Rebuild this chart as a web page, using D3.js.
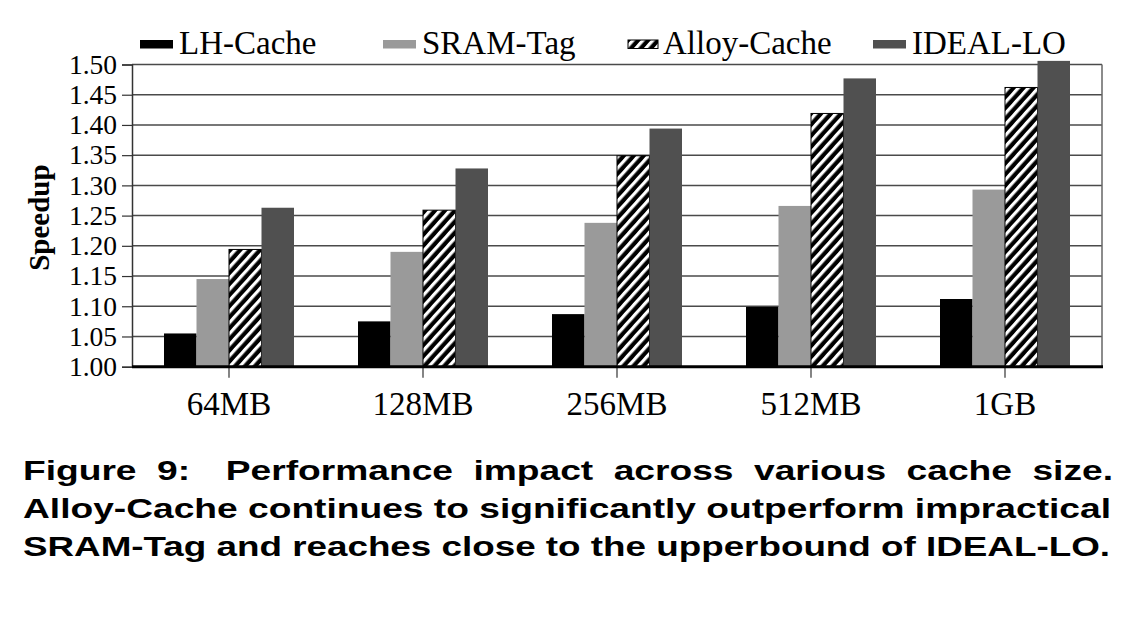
<!DOCTYPE html>
<html><head><meta charset="utf-8">
<script src="https://cdn.jsdelivr.net/npm/d3@7"></script>
<style>body{margin:0;background:#fff}svg{display:block}</style>
</head><body><svg id="c" width="1135" height="617"></svg>
<script>
const categories = ["64MB", "128MB", "256MB", "512MB", "1GB"];
const seriesNames = ["LH-Cache", "SRAM-Tag", "Alloy-Cache", "IDEAL-LO"];
const lhCache    = [1.055, 1.075, 1.087, 1.099, 1.112];
const sramTag    = [1.145, 1.190, 1.238, 1.266, 1.293];
const alloyCache = [1.194, 1.259, 1.349, 1.419, 1.462];
const idealLO    = [1.263, 1.328, 1.394, 1.477, 1.506];
const yTicks = [1.00, 1.05, 1.10, 1.15, 1.20, 1.25, 1.30, 1.35, 1.40, 1.45, 1.50];
const yLabel = "Speedup";
const captionLine1 = ["Figure", "9:", "Performance", "impact", "across", "various", "cache", "size."];
const captionLine2 = "Alloy-Cache continues to significantly outperform impractical";
const captionLine3 = "SRAM-Tag and reaches close to the upperbound of IDEAL-LO.";

const seriesValues = [lhCache, sramTag, alloyCache, idealLO];
const fills = ["#000000", "#9a9a9a", "url(#hatch)", "#505050"];

const svg = d3.select("#c");
const serif = "'Liberation Serif','Times New Roman',serif";
const sans = "'Liberation Sans',Arial,Helvetica,sans-serif";

// hatch pattern
const defs = svg.append("defs");
const pat = defs.append("pattern").attr("id", "hatch").attr("patternUnits", "userSpaceOnUse")
  .attr("width", 7.4).attr("height", 7.4).attr("patternTransform", "rotate(42)");
pat.append("rect").attr("width", 7.4).attr("height", 7.4).attr("fill", "#000");
pat.append("rect").attr("x", 0).attr("y", 0).attr("width", 3.2).attr("height", 7.4).attr("fill", "#fff");

const pLeft = 132, pRight = 1102, pTop = 64.5, pBottom = 366.7;
const x = d3.scaleBand().domain(categories).range([pLeft, pRight]).padding(0);
const xs = d3.scaleBand().domain(seriesNames).range([32, 162]).padding(0);
const y = d3.scaleLinear().domain([1.0, 1.5]).range([pBottom, pTop]);

// gridlines
svg.append("g").selectAll("line").data(yTicks.slice(1)).join("line")
  .attr("x1", pLeft).attr("x2", pRight).attr("y1", d => y(d)).attr("y2", d => y(d))
  .attr("stroke", "#4a4a4a").attr("stroke-width", 1.5);
// right border
svg.append("line").attr("x1", pRight).attr("x2", pRight).attr("y1", pTop).attr("y2", pBottom)
  .attr("stroke", "#666").attr("stroke-width", 1.5);

// bars
const rows = [];
categories.forEach((c, i) => seriesNames.forEach((s, j) => rows.push({c, s, j, v: seriesValues[j][i]})));
svg.append("g").selectAll("rect").data(rows).join("rect")
  .attr("x", d => x(d.c) + xs(d.s))
  .attr("width", xs.bandwidth())
  .attr("y", d => y(d.v))
  .attr("height", d => y(1.0) - y(d.v))
  .attr("fill", d => fills[d.j])
  .attr("stroke", d => d.j === 2 ? "#000" : "none")
  .attr("stroke-width", 1);

// y axis
const yAxis = d3.axisLeft(y).tickValues(yTicks).tickFormat(d3.format(".2f")).tickSize(10).tickPadding(5);
const ga = svg.append("g").attr("transform", `translate(${pLeft},0)`).call(yAxis);
ga.select(".domain").attr("stroke", "#333").attr("stroke-width", 1.5);
ga.selectAll(".tick line").attr("stroke", "#333").attr("stroke-width", 1.2);
ga.selectAll("text").attr("font-family", serif).attr("font-size", 27.5).attr("fill", "#000");

// x axis
const xAxis = d3.axisBottom(x).tickSize(11).tickPadding(14);
const gx = svg.append("g").attr("transform", `translate(0,${pBottom})`).call(xAxis);
gx.select(".domain").remove();
gx.selectAll(".tick line").attr("stroke", "#333").attr("stroke-width", 1.2);
gx.selectAll("text").attr("font-family", serif).attr("font-size", 33).attr("fill", "#000");
svg.append("line").attr("x1", pLeft).attr("x2", pRight + 1).attr("y1", pBottom).attr("y2", pBottom)
  .attr("stroke", "#000").attr("stroke-width", 3);

// y label
svg.append("text").attr("transform", `translate(49,${(pTop + pBottom) / 2 + 2}) rotate(-90)`)
  .attr("text-anchor", "middle").attr("font-family", serif).attr("font-weight", "bold")
  .attr("font-size", 29).text(yLabel);

// legend
const legX = [140, 383, 628, 873];
const legG = svg.append("g");
seriesNames.forEach((s, j) => {
  legG.append("rect").attr("x", legX[j]).attr("y", 40).attr("width", j === 2 ? 30 : 33).attr("height", 8.5)
    .attr("fill", fills[j]).attr("stroke", j === 2 ? "#000" : "none");
  legG.append("text").attr("x", legX[j] + (j === 2 ? 35 : 39)).attr("y", 54)
    .attr("font-family", serif).attr("font-size", 33).text(s);
});

// caption
const capSize = 28;
const cap = svg.append("g").attr("font-family", sans).attr("font-weight", "bold").attr("font-size", capSize).attr("fill", "#000");
const l2 = cap.append("text").attr("x", 23).attr("y", 518).text(captionLine2);
const nat2 = l2.node().getComputedTextLength();
const sc = 1088 / nat2;
l2.attr("textLength", 1088).attr("lengthAdjust", "spacingAndGlyphs");
cap.append("text").attr("x", 23).attr("y", 556).text(captionLine3)
  .attr("textLength", 1087).attr("lengthAdjust", "spacingAndGlyphs");
// line 1 justified
const words = captionLine1.map(w => {
  const t = cap.append("text").attr("y", 480).text(w);
  const wd = t.node().getComputedTextLength() * sc;
  t.attr("textLength", wd).attr("lengthAdjust", "spacingAndGlyphs");
  return {t, wd};
});
const weights = [1, 1.75, 1, 1, 1, 1, 1];
const totalW = d3.sum(words, d => d.wd);
const gapUnit = (1113 - 23 - totalW) / d3.sum(weights);
let cx = 23;
words.forEach((w, i) => {
  w.t.attr("x", cx);
  cx += w.wd + (i < weights.length ? weights[i] * gapUnit : 0);
});
</script></body></html>
